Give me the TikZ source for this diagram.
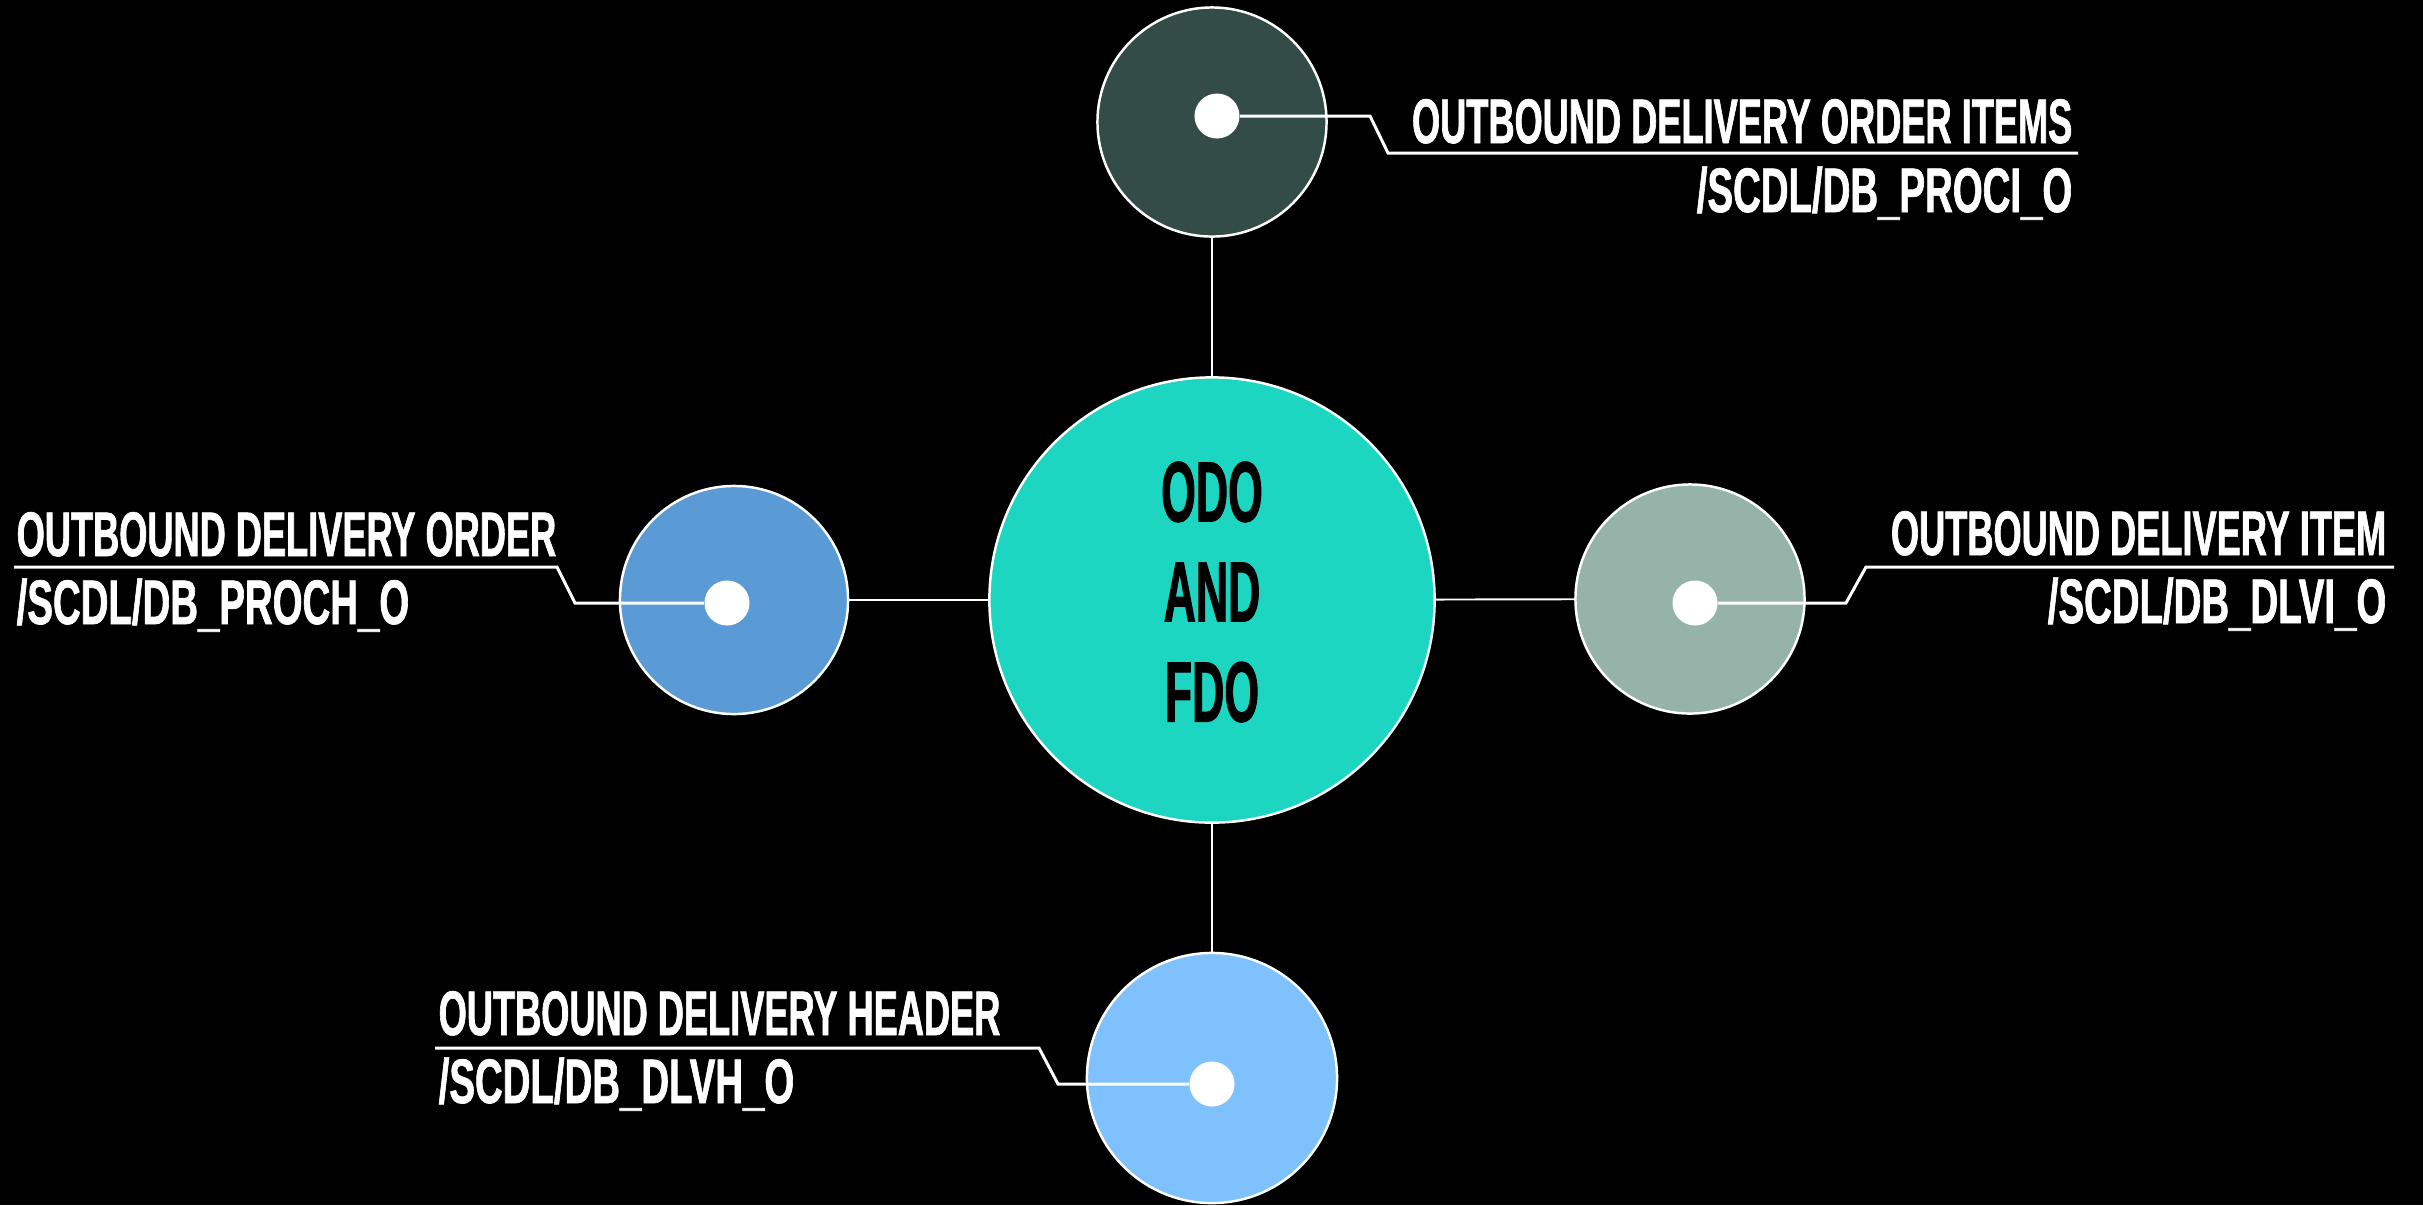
\documentclass[tikz,border=0pt]{standalone}
\usepackage{fontspec}
\newfontfamily\labelfont[FakeStretch=0.575,FakeBold=1]{Liberation Sans}
\newfontfamily\codefont[FakeStretch=0.61,FakeBold=1]{Liberation Sans}
\newfontfamily\hubfont[FakeStretch=0.52,FakeBold=1]{Liberation Sans}
\definecolor{chub}{RGB}{28,214,194}
\definecolor{ctop}{RGB}{52,76,71}
\definecolor{cleft}{RGB}{91,155,213}
\definecolor{cright}{RGB}{150,179,170}
\definecolor{cbottom}{RGB}{126,193,253}
\begin{document}
\begin{tikzpicture}[x=0.01cm,y=-0.01cm,
  bubble/.style={circle,draw=white,line width=0.7pt,inner sep=0pt},
  dot/.style={circle,fill=white,draw=none,inner sep=0pt,minimum size=0.45cm},
  link/.style={draw=white,line width=0.55pt},
  leader/.style={draw=white,line width=0.85pt},
  lbl/.style={text=white,inner sep=0pt,font=\labelfont\bfseries\fontsize{17.9pt}{20pt}\selectfont},
  code/.style={text=white,inner sep=0pt,font=\codefont\bfseries\fontsize{17.9pt}{20pt}\selectfont},
  hubtext/.style={text=black,inner sep=0pt,align=center,font=\hubfont\bfseries\fontsize{24.4pt}{28.45pt}\selectfont}]
\fill[black] (0,0) rectangle (2423,1205);
\useasboundingbox (0,0) rectangle (2423,1205);
% circles
\node[bubble,fill=chub,minimum size=4.45cm] (hub) at (1212,600) {};
\node[bubble,fill=ctop,minimum size=2.29cm] (top) at (1212,122) {};
\node[bubble,fill=cleft,minimum size=2.28cm] (left) at (734,600) {};
\node[bubble,fill=cright,minimum size=2.29cm] (right) at (1690,599) {};
\node[bubble,fill=cbottom,minimum size=2.5cm] (bottom) at (1212,1078) {};
\node[hubtext] (hublabel) at (1212,592) {ODO\\AND\\FDO};
% connectors
\draw[link] (top) -- (hub);
\draw[link] (hub) -- (left);
\draw[link] (hub) -- (right);
\draw[link] (hub) -- (bottom);
% dots
\node[dot] (dtop) at (1217,116) {};
\node[dot] (dleft) at (727,603) {};
\node[dot] (dright) at (1695,603) {};
\node[dot] (dbottom) at (1212,1084) {};
% leader bends
\coordinate (ta) at (1370,116); \coordinate (tb) at (1388,153); \coordinate (tc) at (2078,153);
\coordinate (la) at (575,603);  \coordinate (lb) at (557,567);  \coordinate (lc) at (14,567);
\coordinate (ra) at (1846,603); \coordinate (rb) at (1866,567); \coordinate (rc) at (2394,567);
\coordinate (ba) at (1058,1084); \coordinate (bb) at (1039,1048); \coordinate (bc) at (435,1048);
\draw[leader] (dtop.east) -- (ta) -- (tb) -- (tc);
\draw[leader] (dleft.west) -- (la) -- (lb) -- (lc);
\draw[leader] (dright.east) -- (ra) -- (rb) -- (rc);
\draw[leader] (dbottom.west) -- (ba) -- (bb) -- (bc);
% labels
\node[lbl,anchor=base east] (t1) at (2073,143) {OUTBOUND DELIVERY ORDER ITEMS};
\node[code,anchor=base east] (t2) at (2073,212) {/SCDL/DB\_PROCI\_O};
\node[lbl,anchor=base west] (l1) at (16,556) {OUTBOUND DELIVERY ORDER};
\node[code,anchor=base west] (l2) at (16,624) {/SCDL/DB\_PROCH\_O};
\node[lbl,anchor=base east] (r1) at (2387,555) {OUTBOUND DELIVERY ITEM};
\node[code,anchor=base east] (r2) at (2387,623) {/SCDL/DB\_DLVI\_O};
\node[lbl,anchor=base west] (b1) at (438,1035) {OUTBOUND DELIVERY HEADER};
\node[code,anchor=base west] (b2) at (438,1103) {/SCDL/DB\_DLVH\_O};
\end{tikzpicture}
\end{document}
